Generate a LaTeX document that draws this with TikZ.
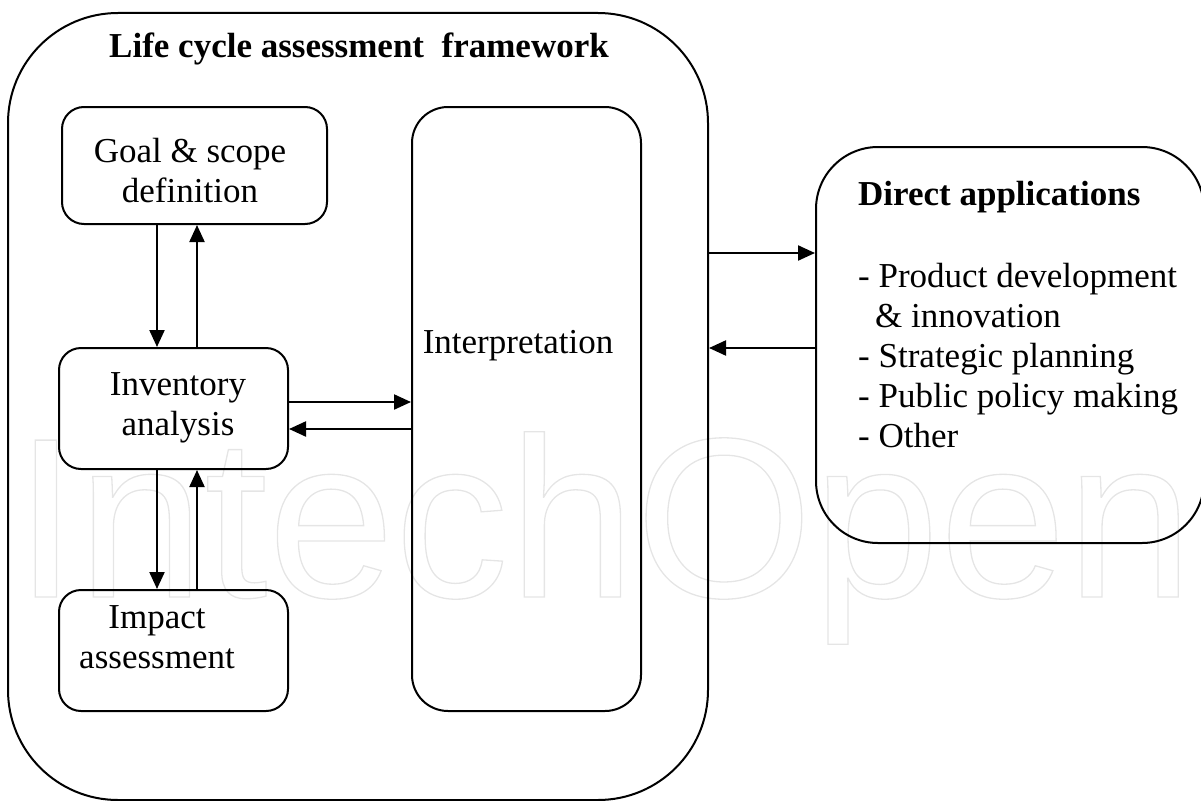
\documentclass[tikz,border=0pt]{standalone}
\usepackage{fontspec}
\setmainfont{Liberation Serif}
\newfontfamily\wmfont{Liberation Sans}
\usetikzlibrary{arrows.meta}
\begin{document}
\begin{tikzpicture}[x=1pt,y=-1pt,
  box/.style={draw, line width=2pt, rounded corners=#1, inner sep=0pt},
  box/.default=22pt,
  arr/.style={-{Triangle[length=17pt,width=15pt]}, line width=2.2pt},
  txt/.style={font=\fontsize{35}{40}\selectfont, align=center, inner sep=0pt, anchor=base},
  btxt/.style={font=\fontsize{35}{40}\selectfont\bfseries, inner sep=0pt},
  ltxt/.style={font=\fontsize{35}{40}\selectfont, align=left, inner sep=0pt, anchor=base west}]
\useasboundingbox (0,0) rectangle (1201,800);
% watermark
\node[anchor=base west, inner sep=0pt, text=black!10,
      font=\wmfont\fontsize{228}{228}\selectfont] (wm) at (14,597)
  {\special{pdf:literal direct 1 Tr 1.3 w 0.9 G}IntechOpen\special{pdf:literal direct 0 Tr}};
% boxes
\node[box=110pt, minimum width=700pt, minimum height=787pt] (outer) at (358,406.5) {};
\node[box=22pt, minimum width=265pt, minimum height=117pt] (goal) at (194.5,165.5) {};
\node[box=22pt, minimum width=229pt, minimum height=121pt] (inv) at (173.5,408.5) {};
\node[box=22pt, minimum width=229pt, minimum height=121pt] (imp) at (173.5,650.5) {};
\node[box=36pt, minimum width=229pt, minimum height=604pt] (interp) at (526.5,409) {};
\node[box=62pt, minimum width=388pt, minimum height=396pt] (direct) at (1010,345) {};
% texts (anchor=base of a multi-line node is the last line's baseline)
\node[btxt, anchor=base] (title) at (359,57) {Life cycle assessment\ \ framework};
\node[txt] (goalt) at (190,202) {Goal \& scope\\definition};
\node[txt] (invt) at (178,435) {Inventory\\analysis};
\node[txt] (impt) at (157,668) {Impact\\assessment};
\node[txt] (interpt) at (518,353) {Interpretation};
\node[btxt, anchor=base west] (directt) at (858,205) {Direct applications};
\node[ltxt] (list) at (858,447) {- Product development\\\hspace*{17pt}\& innovation\\- Strategic planning\\- Public policy making\\- Other};
% connectors
\coordinate (xa) at (157,0);
\coordinate (xb) at (197,0);
\coordinate (ya) at (0,402);
\coordinate (yb) at (0,429);
\coordinate (yc) at (0,253);
\coordinate (yd) at (0,348);
\draw[arr] (goal.south -| xa) -- (inv.north -| xa);
\draw[arr] (inv.north -| xb) -- (goal.south -| xb);
\draw[arr] (inv.south -| xa) -- (imp.north -| xa);
\draw[arr] (imp.north -| xb) -- (inv.south -| xb);
\draw[arr] (inv.east |- ya) -- (interp.west |- ya);
\draw[arr] (interp.west |- yb) -- (inv.east |- yb);
\draw[arr] (outer.east |- yc) -- (direct.west |- yc);
\draw[arr] (direct.west |- yd) -- (outer.east |- yd);
\end{tikzpicture}
\end{document}
